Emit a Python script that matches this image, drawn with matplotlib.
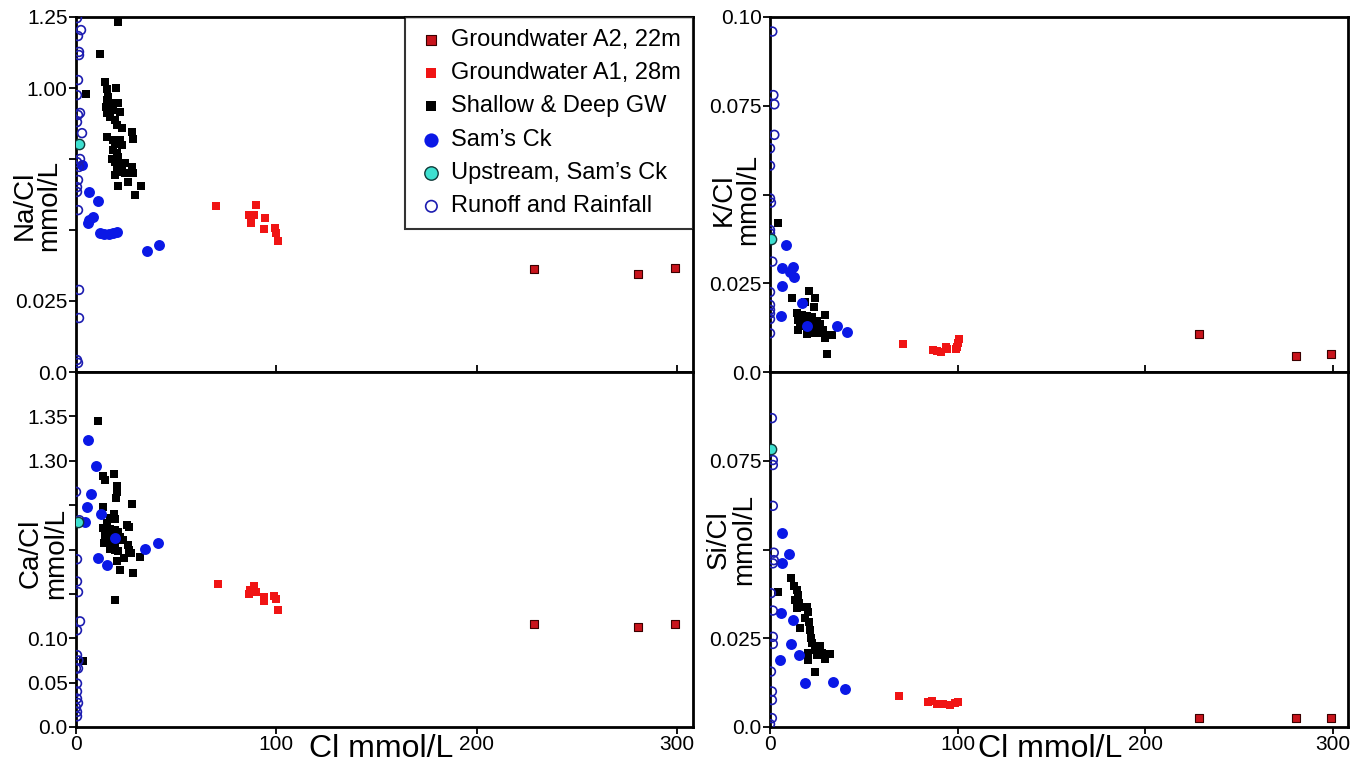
import matplotlib
matplotlib.use("Agg")
import matplotlib.pyplot as plt

plt.rcParams['font.family'] = ['Liberation Sans', 'DejaVu Sans']

# ---- data (Cl in mmol/L, ratios as plotted) ----
A2_CL = [228.5, 280.3, 299.0]
NA_A2 = [0.362, 0.346, 0.365]
CA_A2 = [0.116, 0.113, 0.116]
K_A2 = [0.0106, 0.0044, 0.0051]
SI_A2 = [0.0025, 0.0025, 0.0025]

# Na/Cl panel
NA_A1_CL = [70, 90, 86.2, 89, 94.2, 87.3, 93.7, 99.2, 99.8, 100.7]
NA_A1 = [0.584, 0.588, 0.553, 0.553, 0.543, 0.524, 0.502, 0.506, 0.488, 0.462]
NA_GW_CL = [21, 12, 14.5, 20, 15.7, 5, 16.2, 15.3, 15, 17.8,
            21.2, 18.7, 22, 15.3, 17, 19.5, 20.3, 22.8, 27.8, 15.7,
            18.7, 28.3, 22, 19.5, 22.8, 18.7, 20.3, 21.2, 17.8, 19.5,
            22.3, 24.5, 20.3, 22.8, 27.8, 20.3, 22, 24.5, 28.3, 19.5,
            25.8, 21.2, 32.5, 29.5]
NA_GW = [1.233, 1.119, 1.022, 0.999, 0.995, 0.979, 0.969, 0.958, 0.934, 0.946,
         0.946, 0.922, 0.916, 0.911, 0.899, 0.887, 0.870, 0.858, 0.846, 0.826,
         0.817, 0.819, 0.817, 0.803, 0.799, 0.782, 0.770, 0.758, 0.749, 0.740,
         0.735, 0.735, 0.723, 0.717, 0.723, 0.709, 0.705, 0.702, 0.700, 0.694,
         0.670, 0.655, 0.655, 0.623]
NA_SAMS_CL = [3, 6.5, 11, 8.5, 6.5, 6, 12, 14, 16.5, 18.5, 20.5, 35.5, 41.5]
NA_SAMS = [0.729, 0.634, 0.602, 0.546, 0.535, 0.525, 0.489, 0.486, 0.486,
           0.489, 0.493, 0.426, 0.447]
NA_UP_CL = [1.5]
NA_UP = [0.803]
NA_RUN_CL = [0.5, 2.5, 1, 1.5, 1.5, 1, 0.5, 2, 1, 0.5, 3, 2, 0.5, 1.5, 1,
             0.5, 0.5, 1, 1.5, 1.5, 0.5, 1]
NA_RUN = [1.246, 1.204, 1.183, 1.127, 1.116, 1.028, 0.975, 0.912, 0.905, 0.880,
          0.841, 0.750, 0.739, 0.722, 0.676, 0.651, 0.634, 0.570, 0.289, 0.190,
          0.042, 0.032]

# Ca/Cl panel
CA_A1_CL = [70.8, 86.2, 87, 88.7, 90, 93.7, 93.7, 98.7, 100, 100.7]
CA_A1 = [0.161, 0.150, 0.154, 0.159, 0.152, 0.146, 0.142, 0.148, 0.144, 0.132]
CA_GW_CL = [10.8, 19, 13.3, 14.7, 20.7, 20.3, 20, 13.3, 27.8, 19,
            17, 19.5, 15.7, 25.3, 26.7, 13.7, 17, 19.5, 21.2, 14.5,
            17, 22, 15.7, 17.8, 23.7, 14, 19.5, 26.2, 17, 19.5,
            26.7, 21.2, 27.3, 24, 20.7, 32, 22, 28.7, 19.5, 3.7]
CA_GW = [0.345, 0.285, 0.283, 0.278, 0.271, 0.265, 0.258, 0.248, 0.251, 0.240,
         0.235, 0.234, 0.230, 0.228, 0.225, 0.224, 0.223, 0.222, 0.220, 0.216,
         0.215, 0.214, 0.211, 0.209, 0.211, 0.207, 0.205, 0.205, 0.201, 0.199,
         0.199, 0.198, 0.196, 0.190, 0.187, 0.191, 0.177, 0.173, 0.143, 0.074]
CA_SAMS_CL = [6.2, 9.8, 7.3, 5.3, 12.3, 4.7, 19.5, 10.8, 15.3, 34.3, 40.7]
CA_SAMS = [0.323, 0.294, 0.263, 0.248, 0.240, 0.231, 0.213, 0.190, 0.183,
           0.201, 0.207]
CA_UP_CL = [1]
CA_UP = [0.231]
CA_RUN_CL = [0, 1.7, 0.5, 0.5, 1, 2, 0.5, 0.5, 1.2, 1, 0, 0.5, 0.5, 0.5, 1,
             0, 0.5, 0.5]
CA_RUN = [0.265, 0.233, 0.189, 0.164, 0.152, 0.119, 0.109, 0.081, 0.075,
          0.066, 0.066, 0.049, 0.040, 0.032, 0.027, 0.022, 0.017, 0.012]

# K/Cl panel
K_A1_CL = [71, 87, 89, 91, 94.5, 94, 99.5, 100.4, 100.7, 99]
K_A1 = [0.0078, 0.0062, 0.0060, 0.0057, 0.0064, 0.0071, 0.0070, 0.0081,
        0.0092, 0.0066]
K_GW_CL = [4.4, 11.9, 21, 24, 18.7, 23.4, 14.2, 16.9, 19.5, 22.2,
           29.3, 15.1, 17.8, 21.3, 24.9, 16, 18.7, 26.6, 20.4, 24,
           15.1, 28.4, 22.2, 25.8, 30.2, 32.9, 29.3, 19.5, 30.2]
K_GW = [0.0421, 0.0208, 0.0228, 0.0209, 0.0198, 0.0182, 0.0165, 0.0161,
        0.0158, 0.0156, 0.0161, 0.0146, 0.0145, 0.0142, 0.0145, 0.0132,
        0.0130, 0.0135, 0.0123, 0.0123, 0.0118, 0.0118, 0.0109, 0.0109,
        0.0104, 0.0104, 0.0097, 0.0107, 0.0051]
K_SAMS_CL = [8.5, 6.2, 12.1, 10.7, 12.9, 6.6, 17.2, 5.7, 19.6, 35.9, 40.9]
K_SAMS = [0.0358, 0.0292, 0.0295, 0.0283, 0.0268, 0.0242, 0.0194, 0.0158,
          0.0130, 0.0130, 0.0114]
K_UP_CL = [0.5]
K_UP = [0.0374]
K_RUN_CL = [1.2, 1.8, 2.3, 2.3, 0, 0, 0, 0.5, 0, 0, 1.2, 0, 0, 0, 0, 0, 0]
K_RUN = [0.0959, 0.0780, 0.0754, 0.0668, 0.0630, 0.0581, 0.0489, 0.0477,
         0.0400, 0.0391, 0.0311, 0.0225, 0.0189, 0.0175, 0.0165, 0.0149, 0.0109]

# Si/Cl panel
SI_A1_CL = [68.9, 84.4, 86.2, 88.8, 92.4, 95.9, 98.6, 100.4]
SI_A1 = [0.0088, 0.0071, 0.0073, 0.0065, 0.0064, 0.0062, 0.0067, 0.0071]
SI_GW_CL = [4.1, 11, 13, 14.2, 15.1, 13.3, 15.6, 17.8, 14.2, 19.5,
            20.4, 18.7, 16, 21, 21.3, 21.7, 22.2, 26.6, 24, 20.4,
            24.9, 27.5, 32, 29.3, 20.4, 24]
SI_GW = [0.0381, 0.0419, 0.0397, 0.0386, 0.0372, 0.0358, 0.0348, 0.0339,
         0.0334, 0.0337, 0.0325, 0.0306, 0.0278, 0.0297, 0.0273, 0.0250,
         0.0236, 0.0227, 0.0217, 0.0208, 0.0203, 0.0208, 0.0206, 0.0191,
         0.0189, 0.0154]
SI_SAMS_CL = [6.2, 10.3, 6.6, 5.9, 12.1, 11, 5.3, 15.6, 18.7, 33.7, 40]
SI_SAMS = [0.0547, 0.0487, 0.0461, 0.0320, 0.0301, 0.0234, 0.0189, 0.0203,
           0.0125, 0.0126, 0.0106]
SI_UP_CL = [0.5]
SI_UP = [0.0782]
SI_RUN_CL = [1, 1.5, 1.5, 1.5, 2, 2, 1.5, 0.5, 1.5, 1.5, 1.5, 0.5, 1, 1, 1, 0]
SI_RUN = [0.0870, 0.0752, 0.0738, 0.0623, 0.0491, 0.0470, 0.0461, 0.0377,
          0.0328, 0.0254, 0.0234, 0.0156, 0.0100, 0.0076, 0.0025, 0.0008]

# tick labels as printed on the original figure
NA_TICKS = [0, 0.25, 0.5, 0.75, 1.0, 1.25]
NA_TICKLABELS = ['0.0', '0.025', '', '', '1.00', '1.25']
CA_TICKS = [0, 0.05, 0.10, 0.15, 0.20, 0.25, 0.30, 0.35]
CA_TICKLABELS = ['0.0', '0.05', '0.10', '', '', '', '1.30', '1.35']
K_TICKS = [0, 0.025, 0.05, 0.075, 0.10]
K_TICKLABELS = ['0.0', '0.025', '', '0.075', '0.10']
SI_TICKS = [0, 0.025, 0.05, 0.075]
SI_TICKLABELS = ['0.0', '0.025', '', '0.075']
X_TICKS = [0, 100, 200, 300]

LABELS = ['Groundwater A2, 22m', 'Groundwater A1, 28m', 'Shallow & Deep GW',
          'Sam\u2019s Ck', 'Upstream, Sam\u2019s Ck', 'Runoff and Rainfall']

fig = plt.figure(figsize=(13.63, 7.64), dpi=100)

W = 1363.0
H = 764.0


def box(x0, x1, y0, y1):
    return [x0 / W, 1 - y1 / H, (x1 - x0) / W, (y1 - y0) / H]


def panel(rect, a1x, a1y, a2y, gwx, gwy, sx, sy, ux, uy, rx, ry,
          ymax, ticks, ticklabels, ylabel, ylab_pos, bottom):
    ax = fig.add_axes(rect)
    h = []
    h.append(ax.scatter(A2_CL, a2y, marker='s', s=36, c='#c8141c',
                        edgecolors='#3a0000', linewidths=0.8, zorder=3))
    h.append(ax.scatter(a1x, a1y, marker='s', s=32, c='#f01414',
                        linewidths=0, zorder=3))
    h.append(ax.scatter(gwx, gwy, marker='s', s=28, c='black',
                        linewidths=0, zorder=3))
    h.append(ax.scatter(sx, sy, marker='o', s=62, c='#0a18e6',
                        linewidths=0, zorder=4))
    h.append(ax.scatter(rx, ry, marker='o', s=40, facecolors='none',
                        edgecolors='#1c1cb0', linewidths=1.2, zorder=5))
    h.append(ax.scatter(ux, uy, marker='o', s=55, c='#3ee0d0',
                        edgecolors='#103838', linewidths=1.0, zorder=6))
    ax.set_xlim(0, 308)
    ax.set_ylim(0, ymax)
    ax.set_yticks(ticks)
    ax.set_yticklabels(ticklabels)
    ax.set_xticks(X_TICKS)
    for sp in ax.spines.values():
        sp.set_linewidth(2.0)
    ax.tick_params(axis='y', direction='out', length=5, width=1.3,
                   labelsize=15, pad=1)
    if bottom:
        ax.tick_params(axis='x', direction='out', length=5, width=1.3,
                       labelsize=15, pad=1)
        ax.set_xlabel('Cl mmol/L', fontsize=23)
    else:
        ax.tick_params(axis='x', direction='in', length=5, width=1.3,
                       labelbottom=False)
    ax.set_ylabel(ylabel, fontsize=20, linespacing=0.95)
    ax.yaxis.label.set_verticalalignment('center')
    ax.yaxis.set_label_coords(*ylab_pos)
    return ax, h


ax1, h = panel(box(76, 693, 17, 372), NA_A1_CL, NA_A1, NA_A2, NA_GW_CL, NA_GW,
               NA_SAMS_CL, NA_SAMS, NA_UP_CL, NA_UP, NA_RUN_CL, NA_RUN,
               1.25, NA_TICKS, NA_TICKLABELS, 'Na/Cl\nmmol/L',
               (-0.063, 0.47), False)
ax2, _ = panel(box(76, 693, 372, 727), CA_A1_CL, CA_A1, CA_A2, CA_GW_CL, CA_GW,
               CA_SAMS_CL, CA_SAMS, CA_UP_CL, CA_UP, CA_RUN_CL, CA_RUN,
               0.40, CA_TICKS, CA_TICKLABELS, 'Ca/Cl\nmmol/L',
               (-0.053, 0.49), True)
ax3, _ = panel(box(770, 1348, 17, 372), K_A1_CL, K_A1, K_A2, K_GW_CL, K_GW,
               K_SAMS_CL, K_SAMS, K_UP_CL, K_UP, K_RUN_CL, K_RUN,
               0.10, K_TICKS, K_TICKLABELS, 'K/Cl\nmmol/L',
               (-0.059, 0.485), False)
ax4, _ = panel(box(770, 1348, 372, 727), SI_A1_CL, SI_A1, SI_A2, SI_GW_CL, SI_GW,
               SI_SAMS_CL, SI_SAMS, SI_UP_CL, SI_UP, SI_RUN_CL, SI_RUN,
               0.10, SI_TICKS, SI_TICKLABELS, 'Si/Cl\nmmol/L',
               (-0.067, 0.527), True)

ax2.xaxis.set_label_coords(0.495, -0.02)
ax4.xaxis.set_label_coords(0.485, -0.02)

order = [h[0], h[1], h[2], h[3], h[5], h[4]]
leg = ax1.legend(order, LABELS, loc='upper right', borderaxespad=0,
                 fontsize=17, frameon=True, fancybox=False, markerscale=1.3,
                 handlelength=1.2, handletextpad=0.25, labelspacing=0.48,
                 borderpad=0.5, scatterpoints=1)
leg.get_frame().set_edgecolor('black')
leg.get_frame().set_linewidth(1.5)
leg.set_zorder(10)

fig.savefig('out.png', dpi=100)
